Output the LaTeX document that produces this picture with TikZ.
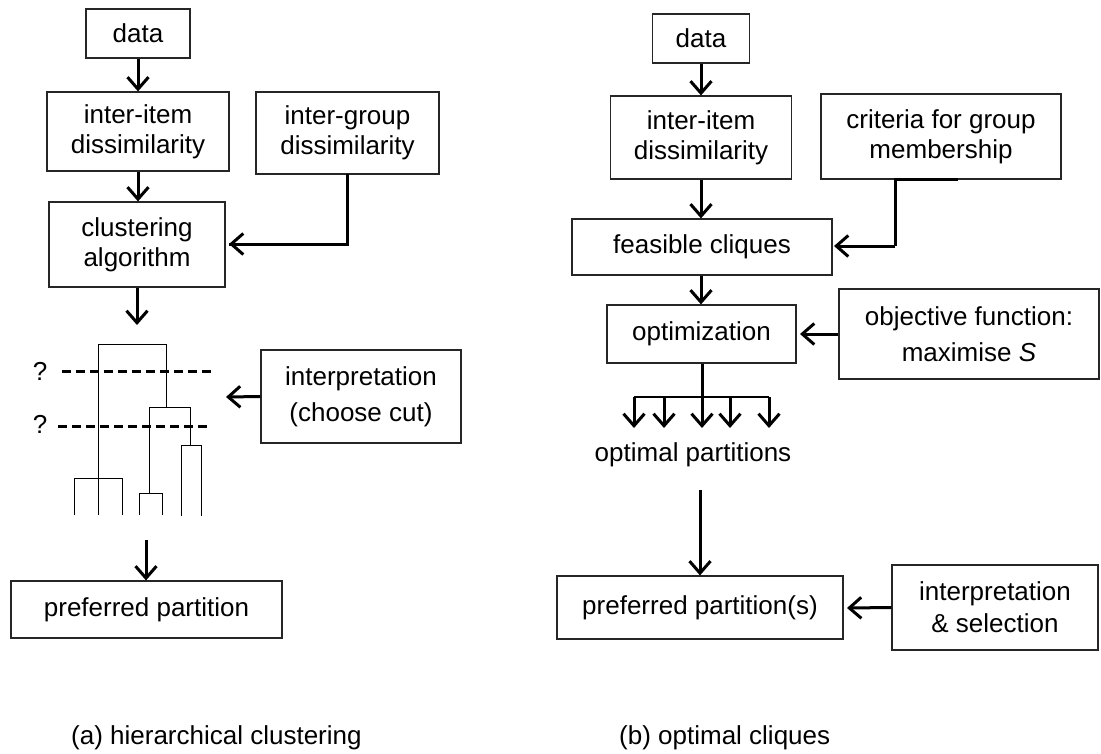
\documentclass[tikz,border=0pt]{standalone}
\usepackage{fontspec}
\setmainfont{Liberation Sans}
\usetikzlibrary{arrows.meta}
\begin{document}
\begin{tikzpicture}[x=1pt,y=-1pt,
  every node/.style={font=\fontsize{26}{30}\selectfont, inner sep=0pt},
  box/.style={draw=black!85, line width=1.2pt, align=center},
  arr/.style={line width=3pt, -{Straight Barb[length=12pt,width=21pt,line width=3pt]}},
  conn/.style={line width=3pt},
  dend/.style={line width=1pt},
  cut/.style={line width=3pt, dash pattern=on 9pt off 5pt}]
\useasboundingbox (0,0) rectangle (1101,753);

% ---------- (a) ----------
\node[box, minimum width=104pt, minimum height=49pt] (dataL) at (138,33.5) {data};
\node[box, minimum width=182pt, minimum height=79pt] (itemL) at (138,131.5) {inter-item\\dissimilarity};
\node[box, minimum width=183pt, minimum height=82pt] (groupL) at (347.5,133) {inter-group\\dissimilarity};
\node[box, minimum width=176pt, minimum height=85pt] (clustL) at (137,244.5) {clustering\\algorithm};
\node[box, minimum width=200pt, minimum height=93pt] (interpL) at (361,396.5) {interpretation\\[6pt](choose cut)};
\node[box, minimum width=271pt, minimum height=57pt] (prefL) at (146.5,609.5) {preferred partition};

\draw[arr] (dataL.south) -- (dataL.south |- itemL.north);
\draw[arr] (itemL.south) -- (itemL.south |- clustL.north);
\coordinate (gL) at (347,174);
\coordinate (gLt) at (229,244);
\draw[conn] (gL) -- (347,244) -- (gLt);
\draw[arr] (347,244) -- (gLt);
\coordinate (dendTop) at (137,325);
\draw[arr] (clustL.south) -- (dendTop);
\coordinate (cutTip) at (226,397);
\draw[arr] (interpL.west) -- (cutTip);
\coordinate (dendBot) at (146,540);
\draw[arr] (dendBot) -- (prefL.north -| dendBot);

% dendrogram
\draw[dend] (98,478) -- (98,344) -- (166,344) -- (166,407);
\draw[dend] (149,493) -- (149,407) -- (190,407) -- (190,445);
\draw[dend] (181,516) -- (181,445) -- (201,445) -- (201,516);
\draw[dend] (139,515) -- (139,493) -- (162,493) -- (162,515);
\draw[dend] (74,515) -- (74,478) -- (122,478) -- (122,515);
\draw[dend] (98,478) -- (98,515);
% cuts
\draw[cut] (62,371) -- (211,371);
\draw[cut] (58,426) -- (208,426);
\node (q1) at (40,371) {?};
\node (q2) at (40,424) {?};

% ---------- (b) ----------
\node[box, minimum width=97pt, minimum height=49pt] (dataR) at (701,38.5) {data};
\node[box, minimum width=181pt, minimum height=83pt] (itemR) at (701,137.5) {inter-item\\dissimilarity};
\node[box, minimum width=240pt, minimum height=85pt] (critR) at (941,136.5) {criteria for group\\membership};
\node[box, minimum width=260pt, minimum height=56pt] (feasR) at (702,247) {feasible cliques};
\node[box, minimum width=189pt, minimum height=58pt] (optR) at (701.5,334) {optimization};
\node[box, minimum width=260pt, minimum height=90pt] (objR) at (969,334) {objective function:\\[6pt]maximise \textit{S}};
\node (optp) at (693,455) {optimal partitions};
\node[box, minimum width=286pt, minimum height=63pt] (prefR) at (700,607.5) {preferred partition(s)};
\node[box, minimum width=206pt, minimum height=85pt] (selR) at (995,607.5) {interpretation\\[2pt]\&\ selection};

\draw[arr] (dataR.south) -- (dataR.south |- itemR.north);
\draw[arr] (itemR.south) -- (itemR.south |- feasR.north);
\draw[arr] (feasR.south -| itemR.south) -- (itemR.south |- optR.north);
\coordinate (cR) at (958,179);
\coordinate (cRt) at (834,246);
\draw[conn] (cR) -- (895,179) -- (895,246);
\draw[arr] (895,246) -- (cRt);
\coordinate (oRt) at (800,334);
\draw[arr] (objR.west) -- (oRt);
\coordinate (sRt) at (847,608);
\draw[arr] (selR.west) -- (sRt);

% fan of optimal partitions
\draw[line width=1.2pt] (634,397) -- (769,397);
\draw[arr] (optR.south -| 702,0) -- (702,428);
\foreach \x in {634,664,730,769} \draw[arr] (\x,397) -- (\x,428);
\coordinate (opS) at (700,490);
\draw[arr] (opS) -- (prefR.north -| opS);

% captions
\node[anchor=base west] (capA) at (71,744) {(a) hierarchical clustering};
\node[anchor=base west] (capB) at (619,744) {(b) optimal cliques};
\end{tikzpicture}
\end{document}
